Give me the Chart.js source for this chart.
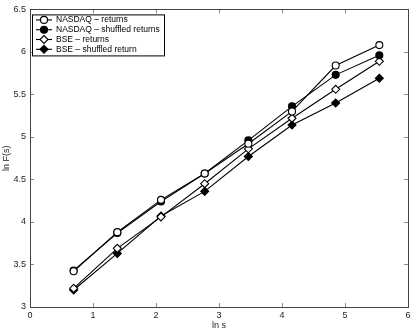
<!DOCTYPE html>
<html>
<head>
<meta charset="utf-8">
<script src="https://cdn.jsdelivr.net/npm/chart.js@4/dist/chart.umd.min.js"></script>
<style>
  html, body { margin: 0; padding: 0; background: #fff; }
  #wrap { width: 415px; height: 332px; position: relative; }
</style>
</head>
<body>
<div id="wrap"><canvas id="chart"></canvas></div>
<script>
// ln s values (s = 2, 4, 8, ..., 256)
const lnS = [0.693, 1.386, 2.079, 2.773, 3.466, 4.159, 4.852, 5.545];
const nasdaqReturns  = [3.42, 3.88, 4.26, 4.57, 4.92, 5.30, 5.84, 6.08];
const nasdaqShuffled = [3.43, 3.87, 4.24, 4.57, 4.96, 5.36, 5.73, 5.96];
const bseReturns     = [3.22, 3.69, 4.06, 4.45, 4.86, 5.22, 5.56, 5.89];
const bseShuffled    = [3.20, 3.63, 4.07, 4.36, 4.77, 5.14, 5.40, 5.69];
const seriesNames = ['NASDAQ \u2013 returns', 'NASDAQ \u2013 shuffled returns', 'BSE \u2013 returns', 'BSE \u2013 shuffled return'];
const xTicks = [0, 1, 2, 3, 4, 5, 6];
const yTicks = [3, 3.5, 4, 4.5, 5, 5.5, 6, 6.5];

const font = "'Liberation Sans', Arial, sans-serif";

function pts(ys){ return lnS.map((x,i)=>({x:x, y:ys[i]})); }

function ds(label, ys, style, filled){
    return {
        label: label,
        data: pts(ys),
        borderColor: '#000',
        borderWidth: 1.1,
        pointStyle: style,
        pointRadius: style === 'circle' ? 3.5 : 4,
        pointBorderWidth: 1.1,
        pointBorderColor: '#000',
        pointBackgroundColor: filled ? '#000' : '#fff',
        showLine: true,
        tension: 0
    };
}

// box + inward ticks + legend, matlab style
const frame = {
    id: 'frame',
    afterDraw(c){
        const ctx = c.ctx, a = c.chartArea;
        const xs = c.scales.x, ys = c.scales.y;
        ctx.save();
        ctx.strokeStyle = '#888';
        ctx.lineWidth = 1;
        ctx.beginPath();
        xTicks.forEach(v=>{
            const px = Math.round(xs.getPixelForValue(v)) + 0.5;
            ctx.moveTo(px, a.bottom); ctx.lineTo(px, a.bottom - 4);
            ctx.moveTo(px, a.top); ctx.lineTo(px, a.top + 4);
        });
        yTicks.forEach(v=>{
            const py = Math.round(ys.getPixelForValue(v)) + 0.5;
            ctx.moveTo(a.left, py); ctx.lineTo(a.left + 4, py);
            ctx.moveTo(a.right, py); ctx.lineTo(a.right - 4, py);
        });
        ctx.stroke();
        ctx.strokeStyle = '#444';
        ctx.strokeRect(Math.round(a.left)+0.5, Math.round(a.top)+0.5, Math.round(a.right-a.left), Math.round(a.bottom-a.top));

        // legend
        const lx = a.left + 2, ly = a.top + 5, lw = 132, lh = 41;
        ctx.fillStyle = '#fff';
        ctx.fillRect(lx, ly, lw, lh);
        ctx.strokeStyle = '#000';
        ctx.strokeRect(lx + 0.5, ly + 0.5, lw, lh);
        ctx.font = '8.5px ' + font;
        ctx.textBaseline = 'middle';
        c.data.datasets.forEach((d,i)=>{
            const y = ly + 5.5 + i * 9.8;
            const mx = lx + 12, r = d.pointRadius;
            ctx.strokeStyle = '#000';
            ctx.lineWidth = 1.1;
            ctx.beginPath();
            ctx.moveTo(lx + 4, y); ctx.lineTo(lx + 20, y);
            ctx.stroke();
            ctx.fillStyle = d.pointBackgroundColor;
            ctx.beginPath();
            if (d.pointStyle === 'circle') ctx.arc(mx, y, r, 0, Math.PI*2);
            else { ctx.moveTo(mx, y-r); ctx.lineTo(mx+r, y); ctx.lineTo(mx, y+r); ctx.lineTo(mx-r, y); ctx.closePath(); }
            ctx.fill(); ctx.stroke();
            ctx.fillStyle = '#000';
            ctx.fillText(d.label, lx + 24, y);
        });
        ctx.restore();
    }
};

new Chart(document.getElementById('chart'), {
    type: 'line',
    data: {
        datasets: [
            ds(seriesNames[0], nasdaqReturns, 'circle', false),
            ds(seriesNames[1], nasdaqShuffled, 'circle', true),
            ds(seriesNames[2], bseReturns, 'rectRot', false),
            ds(seriesNames[3], bseShuffled, 'rectRot', true)
        ]
    },
    options: {
        responsive: true,
        maintainAspectRatio: false,
        animation: false,
        layout: { padding: { top: 6, right: 7, left: 0, bottom: 0 } },
        plugins: { legend: { display: false }, tooltip: { enabled: false } },
        scales: {
            x: {
                type: 'linear', min: 0, max: 6,
                afterBuildTicks: s => { s.ticks = xTicks.map(v=>({value:v})); },
                afterFit: s => { s.height = 25; },
                grid: { display: false, drawTicks: false },
                border: { display: false },
                ticks: { padding: 3, color: '#222', font: { family: font, size: 9 }, callback: v => String(v) },
                title: { display: true, text: 'ln s', color: '#222', padding: { top: 0, bottom: 1 }, font: { family: font, size: 9 } }
            },
            y: {
                type: 'linear', min: 3, max: 6.5,
                afterBuildTicks: s => { s.ticks = yTicks.map(v=>({value:v})); },
                afterFit: s => { s.width = 30; },
                grid: { display: false, drawTicks: false },
                border: { display: false },
                ticks: { padding: 4, color: '#222', font: { family: font, size: 9 }, callback: v => String(v) },
                title: { display: true, text: 'ln F(s)', color: '#222', padding: { top: 1, bottom: 0 }, font: { family: font, size: 9 } }
            }
        }
    },
    plugins: [frame]
});
</script>
</body>
</html>
